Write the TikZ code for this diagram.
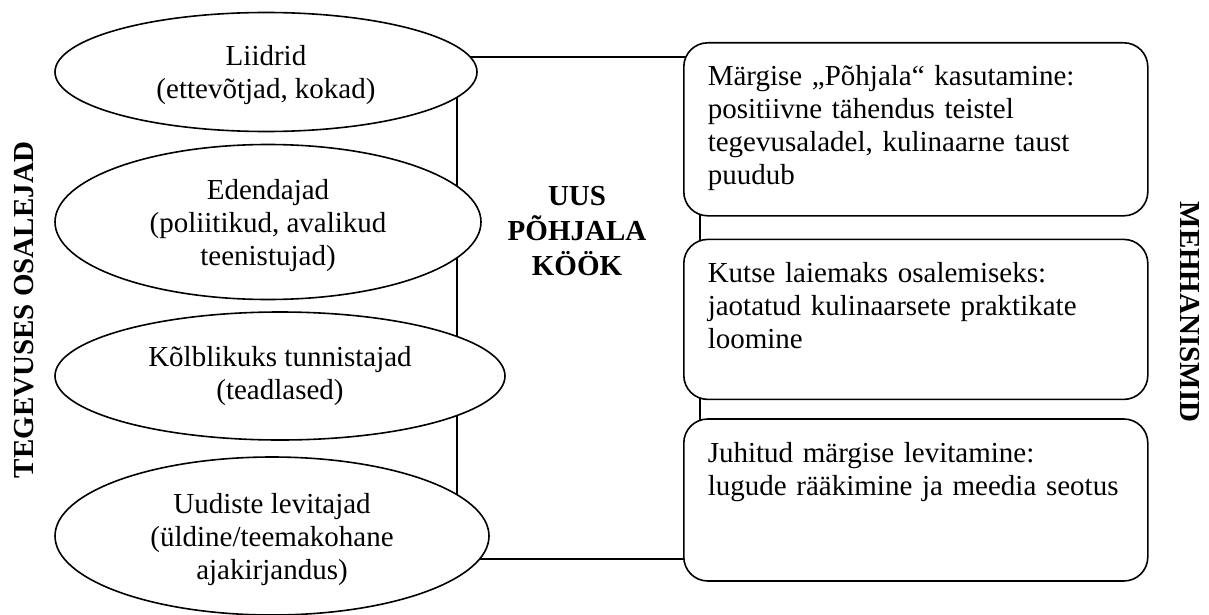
\documentclass[tikz,border=0pt]{standalone}
\usepackage{fontspec}
\setmainfont{Liberation Serif}
\usetikzlibrary{backgrounds}
\usetikzlibrary{positioning}
\usetikzlibrary{shapes.geometric}
\tikzset{
  part/.style={
    draw,
    fill=white,
    line width=0.8pt,
    node font=\fontsize{14.5}{16.5}\selectfont,
    inner sep=0,
  },
  actor/.style={
    part,
    ellipse,
    align=center,
  },
  mechanism/.style={
    part,
    rectangle,
    rounded corners=12pt,
    text width=208pt,
    inner xsep=12pt,
    inner ysep=10pt,
    text height=11.5pt,
    align=left,
  },
  heading/.style={
    node font=\fontsize{14.5}{17.5}\selectfont\bfseries,
    align=center,
    inner sep=0,
  },
  frame/.style={
    draw,
    line width=0.8pt,
    minimum width=121.5pt,
    minimum height=251pt,
  }
}

\begin{document}
\begin{tikzpicture}[x=0.5pt,y=-0.5pt]
  \useasboundingbox (0,0) rectangle (1209,615);

  \node (leaders)    [actor,minimum width=211pt,minimum height=59.5pt,text depth=0pt] at (266,72)  {Liidrid\\(ettevõtjad, kokad)};
  \node (promoters)  [actor,minimum width=213pt,minimum height=77.5pt,text depth=0pt] at (268,222) {Edendajad\\(poliitikud, avalikud\\teenistujad)};
  \node (validators) [actor,minimum width=225pt,minimum height=64pt]                  at (280,376) {Kõlblikuks tunnistajad\\(teadlased)};
  \node (spreaders)  [actor,minimum width=217pt,minimum height=79pt,text depth=0pt]   at (272,536) {Uudiste levitajad\\(üldine/teemakohane\\ajakirjandus)};

  \node (brand)  [mechanism,text depth=55pt,anchor=north west] at (683,42) {%
    Märgise „Põhjala“ kasutamine:\\
    positiivne tähendus teistel\\
    tegevusaladel, kulinaarne taust\\
    puudub};
  \node (invite) [mechanism,text depth=48.5pt,below=11pt of brand] {%
    Kutse laiemaks osalemiseks:\\
    jaotatud kulinaarsete praktikate\\
    loomine};
  \node (spread) [mechanism,text depth=49.5pt,below=9pt of invite] {%
    Juhitud märgise levitamine:\\
    lugude rääkimine ja meedia seotus};

  \node (kitchen)    [heading] at (577,231) {UUS\\PÕHJALA\\KÖÖK};
  \node (actors)     [heading,rotate=90]  at (24,310)   {TEGEVUSES OSALEJAD};
  \node (mechanisms) [heading,rotate=-90] at (1190,312) {MEHHANISMID};

  \begin{scope}[on background layer]
    \node (core) [frame] at (578.5,308) {};
  \end{scope}
\end{tikzpicture}
\end{document}
